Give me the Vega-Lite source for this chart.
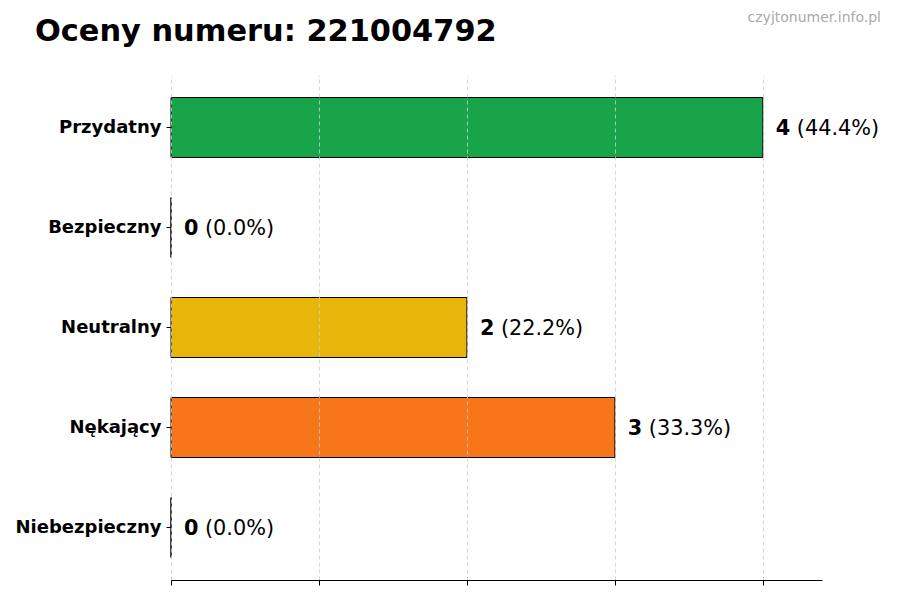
{
  "$schema": "https://vega.github.io/schema/vega-lite/v6.json",
  "width": 651,
  "height": 505,
  "autosize": {"type": "none"},
  "padding": {"left": 171, "top": 75, "right": 78, "bottom": 20},
  "background": "white",
  "config": {
    "font": "DejaVu Sans",
    "view": {"stroke": null}
  },
  "title": {
    "text": "Oceny numeru: 221004792",
    "anchor": "start",
    "frame": "group",
    "baseline": "alphabetic",
    "dx": -136,
    "dy": 31,
    "offset": -29,
    "fontSize": 30.4,
    "fontWeight": "bold",
    "color": "#000000",
    "font": "DejaVu Sans"
  },
  "data": {
    "values": [
      {"ocena": "Przydatny", "liczba": 4, "procent": "(44.4%)", "kolor": "#18a54a"},
      {"ocena": "Bezpieczny", "liczba": 0, "procent": "(0.0%)", "kolor": "#1f77b4"},
      {"ocena": "Neutralny", "liczba": 2, "procent": "(22.2%)", "kolor": "#e8b50b"},
      {"ocena": "Nękający", "liczba": 3, "procent": "(33.3%)", "kolor": "#f77619"},
      {"ocena": "Niebezpieczny", "liczba": 0, "procent": "(0.0%)", "kolor": "#d62728"}
    ]
  },
  "encoding": {
    "y": {
      "field": "ocena",
      "type": "nominal",
      "sort": null,
      "scale": {"paddingInner": 0.4, "paddingOuter": 0.225},
      "axis": {
        "title": null,
        "domain": false,
        "ticks": true,
        "tickSize": 5,
        "tickColor": "#000000",
        "labelFontWeight": "bold",
        "labelFontSize": 18,
        "labelColor": "#000000",
        "labelPadding": 5,
        "labelFont": "DejaVu Sans"
      }
    }
  },
  "layer": [
    {
      "mark": {"type": "bar", "stroke": "#000000", "strokeWidth": 1},
      "encoding": {
        "x": {
          "field": "liczba",
          "type": "quantitative",
          "scale": {"domain": [0, 4.4], "nice": false},
          "axis": {
            "title": null,
            "values": [0, 1, 2, 3, 4],
            "labels": false,
            "ticks": true,
            "tickSize": 5,
            "tickColor": "#000000",
            "domainColor": "#000000",
            "grid": true,
            "gridColor": "#cccccc",
            "gridDash": [4, 3],
            "gridOpacity": 0.8,
            "zindex": 1
          }
        },
        "color": {"field": "kolor", "type": "nominal", "scale": null}
      }
    },
    {
      "mark": {"type": "text", "align": "left", "baseline": "middle", "dx": 13, "dy": 1, "fontSize": 20.8, "fontWeight": "bold", "color": "#000000"},
      "encoding": {
        "x": {"field": "liczba", "type": "quantitative"},
        "text": {"field": "liczba", "type": "quantitative"}
      }
    },
    {
      "mark": {"type": "text", "align": "left", "baseline": "middle", "dx": 34, "dy": 1, "fontSize": 20.8, "color": "#000000"},
      "encoding": {
        "x": {"field": "liczba", "type": "quantitative"},
        "text": {"field": "procent", "type": "nominal"}
      }
    },
    {
      "data": {"values": [{"znak": "czyjtonumer.info.pl"}]},
      "mark": {"type": "text", "align": "right", "baseline": "alphabetic", "fontSize": 14, "color": "#aaaaaa", "x": 710, "y": -53},
      "encoding": {
        "text": {"field": "znak", "type": "nominal"},
        "y": null
      }
    }
  ]
}
